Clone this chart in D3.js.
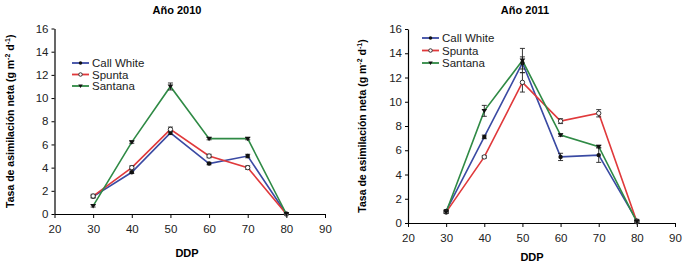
<!DOCTYPE html>
<html>
<head>
<meta charset="utf-8">
<script src="https://cdn.jsdelivr.net/npm/d3@7"></script>
<style>
  body { margin: 0; background: #fff; }
  svg { font-family: "Liberation Sans", Arial, sans-serif; }
</style>
</head>
<body>
<svg id="chart" width="687" height="267"></svg>
<script>
// datos
const ddp = [30, 40, 50, 60, 70, 80];
const xTicks = [20, 30, 40, 50, 60, 70, 80, 90];
const yTicks = [0, 2, 4, 6, 8, 10, 12, 14, 16];
const series = ["Call White", "Spunta", "Santana"];

const cw2010 = [1.5, 3.6, 7.0, 4.35, 5.0, 0];
const sp2010 = [1.55, 4.0, 7.3, 5.0, 4.0, 0];
const sa2010 = [0.7, 6.2, 11.0, 6.5, 6.5, 0];
const cw2010Err = [0.1, 0.1, 0.15, 0.1, 0.15, 0];
const sp2010Err = [0.15, 0.15, 0.2, 0.15, 0.15, 0];
const sa2010Err = [0.1, 0.1, 0.3, 0.1, 0.1, 0];

const cw2011 = [1.0, 7.1, 13.2, 5.45, 5.6, 0.2];
const sp2011 = [0.9, 5.45, 11.6, 8.4, 9.05, 0.1];
const sa2011 = [0.9, 9.25, 13.4, 7.25, 6.3, 0.1];
const cw2011Err = [0.1, 0.15, 0.5, 0.3, 0.6, 0.1];
const sp2011Err = [0.1, 0.1, 0.8, 0.2, 0.3, 0.1];
const sa2011Err = [0.1, 0.45, 1.0, 0.1, 0.1, 0.1];

const colors = ["#3a4aa3", "#e0393b", "#2f8a45"];
const markers = ["circle", "open", "triangle"];

const svg = d3.select("#chart");

function panel(opts) {
  const { title, left, right, top, bottom, data, errs, legend, titleX, ddpX, ddpY, ylabX } = opts;
  const x = d3.scaleLinear().domain([20, 90]).range([left, right]);
  const y = d3.scaleLinear().domain([0, 16]).range([bottom, top]);
  const g = svg.append("g");

  g.append("text")
    .attr("x", titleX).attr("y", 14)
    .attr("text-anchor", "middle")
    .style("font-size", "11px").style("font-weight", "bold")
    .text(title);

  // ejes
  const xAxis = g.append("g")
    .attr("transform", `translate(0,${bottom})`)
    .call(d3.axisBottom(x).tickValues(xTicks).tickSize(3).tickSizeOuter(0));
  const yAxis = g.append("g")
    .attr("transform", `translate(${left},0)`)
    .call(d3.axisLeft(y).tickValues(yTicks).tickSize(3).tickSizeOuter(0));
  [xAxis, yAxis].forEach(a => {
    a.select(".domain").attr("stroke", "#000").attr("stroke-width", 1.2);
    a.selectAll(".tick line").attr("stroke", "#000");
    a.selectAll(".tick text").style("font-size", "11.5px").attr("fill", "#222")
      .style("font-family", "Liberation Sans, Arial, sans-serif");
  });
  xAxis.selectAll(".tick line").attr("y2", 4);
  xAxis.selectAll(".tick text").attr("dy", "1.1em");

  g.append("text")
    .attr("x", ddpX).attr("y", ddpY)
    .attr("text-anchor", "middle")
    .style("font-size", "11px").style("font-weight", "bold")
    .text("DDP");

  const ylab = g.append("text")
    .attr("transform", `translate(${ylabX},${(top + bottom) / 2}) rotate(-90)`)
    .attr("text-anchor", "middle")
    .style("font-size", "10.5px").style("font-weight", "bold");
  ylab.append("tspan").text("Tasa de asimilación neta (g m");
  ylab.append("tspan").attr("dy", -4).style("font-size", "7px").text("-2");
  ylab.append("tspan").attr("dy", 4).text(" d");
  ylab.append("tspan").attr("dy", -4).style("font-size", "7px").text("-1");
  ylab.append("tspan").attr("dy", 4).text(")");

  const line = d3.line().x((d, i) => x(ddp[i])).y(d => y(d));

  data.forEach((vals, s) => {
    g.append("path")
      .attr("d", line(vals))
      .attr("fill", "none")
      .attr("stroke", colors[s])
      .attr("stroke-width", 1.6);
  });

  // barras de error y marcadores
  data.forEach((vals, s) => {
    const eg = g.append("g");
    vals.forEach((v, i) => {
      const e = errs[s][i];
      const cx = x(ddp[i]);
      if (e > 0) {
        eg.append("line").attr("x1", cx).attr("x2", cx)
          .attr("y1", y(v - e)).attr("y2", y(v + e))
          .attr("stroke", "#222").attr("stroke-width", 0.9);
        [v - e, v + e].forEach(w => eg.append("line")
          .attr("x1", cx - 2.5).attr("x2", cx + 2.5)
          .attr("y1", y(w)).attr("y2", y(w))
          .attr("stroke", "#222").attr("stroke-width", 0.9));
      }
      drawMarker(eg, markers[s], cx, y(v));
    });
  });

  // leyenda
  series.forEach((name, s) => {
    const ly = legend.y + s * legend.dy;
    g.append("line")
      .attr("x1", legend.x).attr("x2", legend.x + 17)
      .attr("y1", ly).attr("y2", ly)
      .attr("stroke", colors[s]).attr("stroke-width", 1.8);
    drawMarker(g, markers[s], legend.x + 8.5, ly, 0.8);
    g.append("text")
      .attr("x", legend.x + 20).attr("y", ly + 4)
      .style("font-size", "11.5px").attr("fill", "#222")
      .text(name);
  });
}

function drawMarker(g, type, cx, cy, k = 1) {
  if (type === "circle") {
    g.append("circle").attr("cx", cx).attr("cy", cy).attr("r", 2.2 * k).attr("fill", "#111");
  } else if (type === "open") {
    g.append("circle").attr("cx", cx).attr("cy", cy).attr("r", 2.2 * k)
      .attr("fill", "#fff").attr("stroke", "#222").attr("stroke-width", 0.9);
  } else {
    const r = 2.8 * k;
    g.append("path")
      .attr("d", `M${cx - r},${cy - r * 0.7}L${cx + r},${cy - r * 0.7}L${cx},${cy + r * 0.9}Z`)
      .attr("fill", "#111");
  }
}

panel({
  title: "Año 2010", left: 54.5, right: 325, top: 28.5, bottom: 214,
  titleX: 177, ddpX: 187, ddpY: 257, ylabX: 14,
  data: [cw2010, sp2010, sa2010], errs: [cw2010Err, sp2010Err, sa2010Err],
  legend: { x: 72, y: 63, dy: 11.5 }
});

panel({
  title: "Año 2011", left: 408, right: 675, top: 29, bottom: 223,
  titleX: 525, ddpX: 532, ddpY: 261, ylabX: 366,
  data: [cw2011, sp2011, sa2011], errs: [cw2011Err, sp2011Err, sa2011Err],
  legend: { x: 422, y: 38, dy: 12.5 }
});
</script>
</body>
</html>
